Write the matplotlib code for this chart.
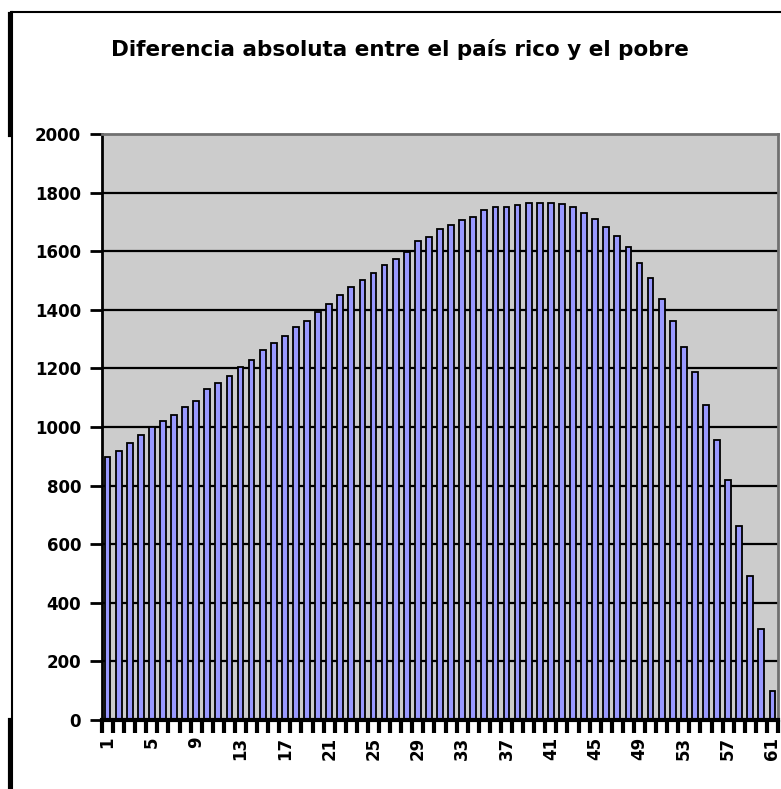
import matplotlib
matplotlib.use("Agg")
import matplotlib.pyplot as plt
from matplotlib.lines import Line2D
import numpy as np

title = "Diferencia absoluta entre el país rico y el pobre"
categories = list(range(1, 62))
values = [899, 919, 944, 972, 1001, 1022, 1042, 1069, 1090, 1129,
          1149, 1175, 1204, 1229, 1263, 1286, 1312, 1340, 1363, 1394,
          1419, 1449, 1477, 1503, 1527, 1553, 1574, 1598, 1634, 1647,
          1675, 1691, 1705, 1718, 1740, 1752, 1752, 1759, 1763, 1763,
          1763, 1760, 1752, 1731, 1711, 1684, 1653, 1613, 1561, 1510,
          1436, 1363, 1272, 1187, 1076, 956, 819, 662, 492, 309, 100]
xtick_labels = [str(c) for c in range(1, 62, 4)]
ytick_values = list(range(0, 2001, 200))

fig = plt.figure(figsize=(7.81, 7.89), dpi=100)
ax = fig.add_axes([102/781, 1-720/789, 676/781, 586/789])
ax.set_facecolor("#CCCCCC")

for y in ytick_values[1:-1]:
    ax.axhline(y, color="black", lw=1.6, zorder=1)

ax.bar(categories, values, width=0.52, color="#9999FF", edgecolor="black",
       linewidth=1.3, zorder=2)

ax.set_xlim(0.5, 61.5)
ax.set_ylim(0, 2000)
ax.set_yticks(ytick_values)
ax.set_yticklabels([str(v) for v in ytick_values], fontfamily="DejaVu Sans",
                   fontweight="bold", fontsize=12)
ax.set_xticks(list(range(1, 62, 4)))
ax.set_xticklabels(xtick_labels, rotation=90, fontfamily="DejaVu Sans",
                   fontweight="bold", fontsize=12)
ax.tick_params(axis="x", which="major", length=0, pad=12)
ax.set_xticks(np.arange(0.5, 62, 1.0), minor=True)
ax.tick_params(axis="x", which="minor", length=9, width=3, color="black",
               direction="out")
ax.tick_params(axis="y", length=9, width=2, color="black", direction="out", pad=6)

ax.spines["left"].set_color("black")
ax.spines["left"].set_linewidth(2)
ax.spines["bottom"].set_color("black")
ax.spines["bottom"].set_linewidth(3)
ax.spines["top"].set_color("#707070")
ax.spines["top"].set_linewidth(2)
ax.spines["right"].set_color("#707070")
ax.spines["right"].set_linewidth(2)

fig.text(400/781, 1-50/789, title, ha="center", va="center",
         fontfamily="DejaVu Sans", fontweight="heavy", fontsize=15.5)

# outer chart frame (top and left)
fig.add_artist(Line2D([11/781, 1], [1-12/789, 1-12/789], color="black", lw=1.5,
                      transform=fig.transFigure))
fig.add_artist(Line2D([12/781, 12/781], [0, 1-12/789], color="black", lw=1.5,
                      transform=fig.transFigure))
fig.add_artist(Line2D([10/781, 10/781], [1-135/789, 1-14/789], color="black", lw=3,
                      transform=fig.transFigure))
fig.add_artist(Line2D([10/781, 10/781], [0, 1-720/789], color="black", lw=3,
                      transform=fig.transFigure))

fig.savefig("out.png", dpi=100, facecolor="white")
